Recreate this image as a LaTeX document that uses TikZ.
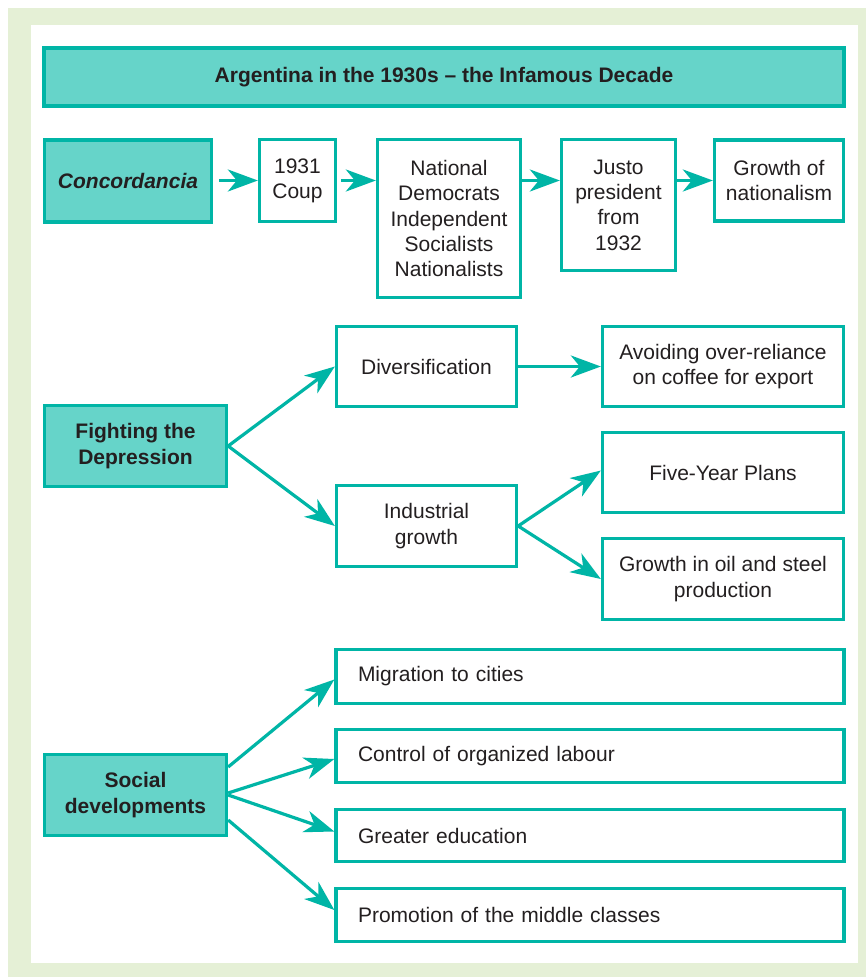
\documentclass[tikz,border=0pt]{standalone}
\usepackage{fontspec}
\setmainfont{Liberation Sans}
\usetikzlibrary{arrows.meta}
\definecolor{teal1}{HTML}{00B5A6}
\definecolor{tealfill}{HTML}{66D4C9}
\definecolor{pagegreen}{HTML}{E5F0D6}
\definecolor{ink}{HTML}{231F20}
\begin{document}
\begin{tikzpicture}[x=1pt,y=-1pt,
  every node/.style={font=\fontsize{21}{25.3}\selectfont, text=ink},
  box/.style={draw=teal1, line width=3.3pt, fill=white, align=center, inner sep=0pt},
  headbox/.style={box, fill=tealfill, font=\fontsize{21}{25.3}\selectfont\bfseries},
  listbox/.style={box, align=left, inner xsep=22pt, text width=464pt, minimum height=#1},
  arr/.style={draw=teal1, line width=3.2pt,
    -{Stealth[length=30pt,width=22pt,inset=9pt]}}
]
\useasboundingbox (0,0) rectangle (866,977);
% page background and white panel
\fill[pagegreen] (8,8) rectangle (866,977);
\fill[white] (31,25) rectangle (858,963);

% title bar
\node[headbox, minimum width=800pt, minimum height=58pt] (title) at (444,77)
  {Argentina in the 1930s -- the Infamous Decade};

% row 1: Concordancia
\node[headbox, minimum width=167pt, minimum height=82pt] (conc) at (128,181)
  {\itshape Concordancia};
\node[box, minimum width=76pt, minimum height=82pt] (coup) at (297.5,180.5)
  {1931\\Coup};
\node[box, minimum width=143pt, minimum height=158pt] (natl) at (449,218.5)
  {National\\Democrats\\Independent\\Socialists\\Nationalists};
\node[box, minimum width=114pt, minimum height=131pt] (justo) at (618.5,205)
  {Justo\\president\\from\\1932};
\node[box, minimum width=129pt, minimum height=81pt] (nation) at (779,180.5)
  {Growth of\\nationalism};

\draw[arr, shorten <=6pt] (conc.east |- coup.west) -- (coup.west);
\draw[arr, shorten <=4pt] (coup.east) -- (coup.east -| natl.west);
\draw[arr] (coup.east -| natl.east) -- (coup.east -| justo.west);
\draw[arr] (coup.east -| justo.east) -- (nation.west);

% row 2: Fighting the Depression
\node[headbox, minimum width=182pt, minimum height=81pt] (fight) at (135.5,446)
  {Fighting the\\Depression};
\node[box, minimum width=180pt, minimum height=80pt] (div) at (426.5,366.5)
  {Diversification};
\node[box, minimum width=180pt, minimum height=81pt] (ind) at (426.5,526)
  {Industrial\\growth};
\node[box, minimum width=241pt, minimum height=80pt] (avoid) at (723,366.5)
  {Avoiding over-reliance\\on coffee for export};
\node[box, minimum width=241pt, minimum height=80pt] (five) at (723,472.5)
  {Five-Year Plans};
\node[box, minimum width=241pt, minimum height=81pt] (oil) at (723,579)
  {Growth in oil and steel\\production};

\draw[arr] (fight.east) -- (div.west);
\draw[arr] (fight.east) -- (ind.west);
\draw[arr] (div.east) -- (avoid.west);
\draw[arr] (ind.east) -- ([yshift=2pt]five.west);
\draw[arr] (ind.east) -- (oil.west);

% row 3: Social developments
\node[headbox, minimum width=182pt, minimum height=81pt] (social) at (135.5,795)
  {Social\\developments};
\node[listbox=54pt] (mig) at (590,676.5) {Migration to cities};
\node[listbox=53pt] (labour) at (590,756) {Control of organized labour};
\node[listbox=52pt] (edu) at (590,835.5) {Greater education};
\node[listbox=53pt] (middle) at (590,915) {Promotion of the middle classes};

\draw[arr] ([yshift=28pt]social.east) -- ([yshift=-3pt]mig.west);
\draw[arr] ([yshift=2pt]social.east) -- ([yshift=-3pt]labour.west);
\draw[arr] (social.east) -- ([yshift=4pt]edu.west);
\draw[arr] ([yshift=-25pt]social.east) -- ([yshift=5pt]middle.west);
\end{tikzpicture}
\end{document}
